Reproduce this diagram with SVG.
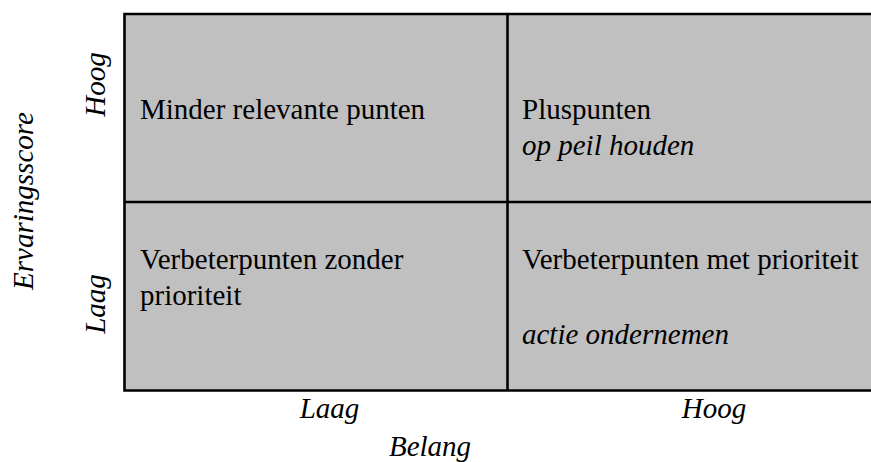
<svg xmlns="http://www.w3.org/2000/svg" width="871" height="462" viewBox="0 0 871 462">
<style>
text{font-family:'Liberation Serif','Times New Roman','DejaVu Serif',serif;font-size:29px;fill:#000}
.i{font-style:italic}
.m{text-anchor:middle}
.cell{fill:#c0c0c0;stroke:none}
.ln{stroke:#000;stroke-width:2.6;fill:none}
</style>
<rect width="871" height="462" fill="#fff"/>
<g id="q-tl"><rect class="cell" x="124.5" y="14" width="383" height="188"/><text x="140" y="119">Minder relevante punten</text></g>
<g id="q-tr"><rect class="cell" x="507.5" y="14" width="370" height="188"/><text x="522" y="119">Pluspunten</text><text class="i" x="522" y="155">op peil houden</text></g>
<g id="q-bl"><rect class="cell" x="124.5" y="202" width="383" height="188.5"/><text x="140" y="269">Verbeterpunten zonder</text><text x="140" y="305">prioriteit</text></g>
<g id="q-br"><rect class="cell" x="507.5" y="202" width="370" height="188.5"/><text x="522" y="269">Verbeterpunten met prioriteit</text><text class="i" x="522" y="344">actie ondernemen</text></g>
<g id="grid">
<path class="ln" d="M880 14H124.5V390.5H880M124.5 202H880M507.5 14V390.5"/>
</g>
<g id="axes">
<text class="i m" transform="translate(33 201) rotate(-90)">Ervaringsscore</text>
<text class="i m" transform="translate(105 84.5) rotate(-90)">Hoog</text>
<text class="i m" transform="translate(105 304) rotate(-90)">Laag</text>
<text class="i m" x="329.5" y="418">Laag</text>
<text class="i m" x="714" y="418">Hoog</text>
<text class="i m" x="430" y="456">Belang</text>
</g>
</svg>
